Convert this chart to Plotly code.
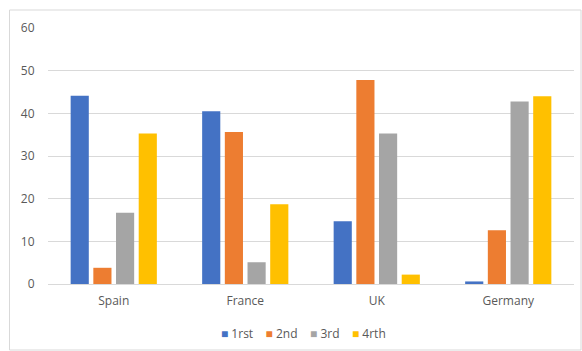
import plotly.graph_objects as go

categories = ["Spain", "France", "UK", "Germany"]
series_names = ["1rst", "2nd", "3rd", "4rth"]
s1 = [44.1, 40.5, 14.7, 0.6]
s2 = [3.8, 35.6, 47.8, 12.6]
s3 = [16.7, 5.1, 35.3, 42.8]
s4 = [35.3, 18.7, 2.2, 44.0]
colors = ["#4472C4", "#ED7D31", "#A5A5A5", "#FFC000"]
y_ticks = [0, 10, 20, 30, 40, 50, 60]

W, H = 582, 351
ml, mr, mt, mb = 48, 8, 28, 67
pw, ph = W - ml - mr, H - mt - mb

fig = go.Figure()
for name, vals, c in zip(series_names, [s1, s2, s3, s4], colors):
    fig.add_trace(go.Bar(x=categories, y=vals, name=name, showlegend=False,
                         marker=dict(color=c, line=dict(width=0))))

def px_to_paper_x(px):
    return (px - ml) / pw

def px_to_paper_y(py):
    return (H - mb - py) / ph

fam = "Open Sans, Liberation Sans, sans-serif"
font = dict(family=fam, size=12, color="#595959")

parts = []
for name, c in zip(series_names, colors):
    parts.append('<span style="color:%s;font-size:12px">■</span> %s' % (c, name))
legend_text = "&nbsp;&nbsp;&nbsp;&nbsp;".join(parts)

fig.update_layout(
    width=W, height=H,
    margin=dict(l=ml, r=mr, t=mt, b=mb),
    paper_bgcolor="white", plot_bgcolor="white",
    barmode="group", bargap=0.31, bargroupgap=0.2,
    font=font,
    xaxis=dict(showgrid=False, showline=False, zeroline=False, ticks="outside", ticklen=6,
               tickcolor="rgba(0,0,0,0)", tickfont=font),
    yaxis=dict(range=[0, 60], tickvals=y_ticks, showgrid=True, gridcolor="#D9D9D9", gridwidth=1,
               zeroline=True, zerolinecolor="#D9D9D9", zerolinewidth=1, showline=False,
               ticks="outside", ticklen=10, tickcolor="rgba(0,0,0,0)", tickfont=font),
    annotations=[dict(text=legend_text, xref="paper", yref="paper",
                      x=px_to_paper_x(303), y=px_to_paper_y(333), xanchor="center", yanchor="middle",
                      showarrow=False, font=font)],
    shapes=[dict(type="rect", xref="paper", yref="paper",
                 x0=px_to_paper_x(9.5), x1=px_to_paper_x(581), y0=px_to_paper_y(350), y1=px_to_paper_y(10),
                 line=dict(color="#D9D9D9", width=1), fillcolor="rgba(0,0,0,0)", layer="below")],
)

fig.write_html("out.html")
